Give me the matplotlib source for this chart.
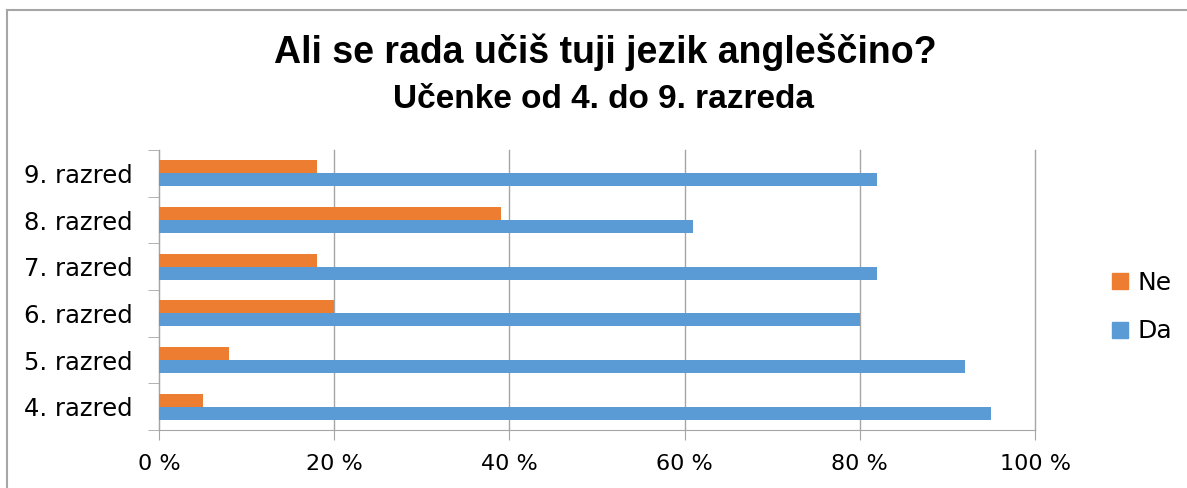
import numpy as np
import matplotlib.pyplot as plt
from matplotlib.lines import Line2D

# ========== PODATKI ==========
razredi = ['4. razred', '5. razred', '6. razred', '7. razred', '8. razred', '9. razred']
da = [95, 92, 80, 82, 61, 82]
ne = [5, 8, 20, 18, 39, 18]
x_ticks = [0, 20, 40, 60, 80, 100]
x_labels = ['0 %', '20 %', '40 %', '60 %', '80 %', '100 %']

col_da = '#5b9bd5'
col_ne = '#ed7d31'

fig = plt.figure(figsize=(11.87, 4.88), dpi=100)
ax = fig.add_axes([159/1187, 1 - 430/488, 876/1187, 280/488])

y = np.arange(len(razredi))
h = 0.28
ax.barh(y - h/2, da, height=h, color=col_da, label='Da', zorder=3)
ax.barh(y + h/2, ne, height=h, color=col_ne, label='Ne', zorder=3)

ax.set_xlim(0, 100)
ax.set_ylim(-0.5, len(razredi) - 0.5)
ax.set_xticks(x_ticks)
ax.set_xticklabels(x_labels, fontsize=16, family='DejaVu Sans')
ax.set_yticks(y)
ax.set_yticklabels(razredi, fontsize=17.5, family='DejaVu Sans')
ax.tick_params(axis='y', length=0, pad=19)
ax.tick_params(axis='x', length=7, color='#a6a6a6', pad=10)

# kljukice med kategorijami
ax.set_yticks(np.arange(-0.5, len(razredi)), minor=True)
ax.tick_params(axis='y', which='minor', length=8, color='#a6a6a6')

ax.grid(axis='x', color='#a6a6a6', linewidth=1, zorder=0)
for gl in ax.get_xgridlines():
    gl.set_clip_on(False)
for s in ['top', 'right']:
    ax.spines[s].set_visible(False)
ax.spines['left'].set_color('#a6a6a6')
ax.spines['bottom'].set_color('#a6a6a6')

# legenda
handles = [Line2D([], [], marker='s', linestyle='', color=col_ne, markersize=12),
           Line2D([], [], marker='s', linestyle='', color=col_da, markersize=12)]
fig.legend(handles, ['Ne', 'Da'], loc='center left', bbox_to_anchor=(1082/1187, 1 - 307/488),
           frameon=False, fontsize=18, handletextpad=0.1, labelspacing=1.0, handlelength=1.2)

# naslov
fig.text(605/1187, 1 - 52/488, 'Ali se rada učiš tuji jezik angleščino?', ha='center', va='center',
         fontsize=27, fontweight='bold', family='Liberation Sans')
fig.text(604/1187, 1 - 100/488, 'Učenke od 4. do 9. razreda', ha='center', va='center',
         fontsize=24, fontweight='bold', family='Liberation Sans')

# okvir
fig.add_artist(Line2D([7/1187, 1], [1 - 10/488, 1 - 10/488], color='#a6a6a6', linewidth=1.5))
fig.add_artist(Line2D([7/1187, 7/1187], [0, 1 - 10/488], color='#a6a6a6', linewidth=1.5))

fig.savefig('out.png', dpi=100)
